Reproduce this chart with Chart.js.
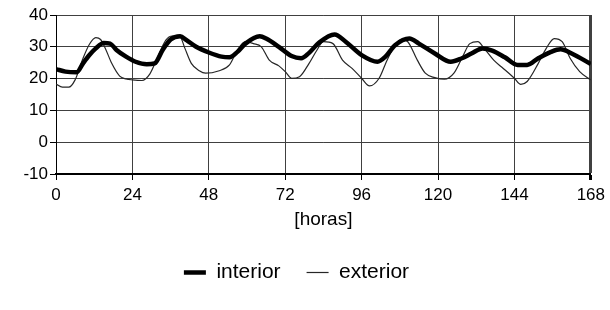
<!DOCTYPE html>
<html>
<head>
<meta charset="utf-8">
<script src="https://cdn.jsdelivr.net/npm/chart.js@4/dist/chart.umd.min.js"></script>
<style>
  html, body { margin: 0; padding: 0; background: #fff; }
  #wrap { width: 610px; height: 310px; }
</style>
</head>
<body>
<div id="wrap"><canvas id="myChart" width="610" height="310"></canvas></div>
<script>
// hours, with the temperature at each
var interiorHoras = [0, 3, 6.5, 8.5, 10.5, 12.5, 15, 17, 19, 22, 25, 28.5, 31, 33.5, 36, 39, 41, 44, 48, 52,
  54.5, 57, 59.5, 64, 66, 70, 74, 77, 79.5, 82.5, 87.5, 91, 96, 101, 103.5, 106.5, 111, 114, 119, 124,
  127.5, 130.5, 134, 137, 141, 145, 148, 151.5, 155.5, 158.5, 162, 168];
var interiorTemp = [23.0, 22.2, 22.0, 24.8, 27.4, 29.5, 31.2, 31.0, 29.0, 26.9, 25.3, 24.5, 24.8, 29.0, 32.3, 33.3, 32.1, 30.0, 28.2, 26.9,
  26.7, 28.4, 31.0, 33.3, 32.6, 30.0, 27.1, 26.4, 28.1, 31.2, 33.9, 31.6, 27.4, 25.3, 26.9, 30.5, 32.6, 31.0, 27.9, 25.3,
  26.4, 27.9, 29.5, 28.8, 26.7, 24.3, 24.3, 26.4, 28.4, 29.2, 27.9, 24.6];

var exteriorHoras = [0, 2, 4, 6, 8.5, 10.5, 12.5, 14, 15.5, 17.5, 20, 22, 24, 27, 29.5, 32, 34.5, 36.5, 39, 40.5,
  42.5, 45, 47, 51, 54.5, 57, 59.5, 62, 64.5, 67, 70, 72, 74, 76.5, 79.5, 82, 84, 87, 90, 93,
  96, 98.5, 101.5, 104, 106.5, 108.5, 110.5, 113.5, 116, 119, 122, 125, 127.5, 130, 132.5, 134.5, 137.5, 140.5, 144, 146,
  148, 151.5, 154, 156.5, 159, 161.5, 164.5, 168];
var exteriorTemp = [18.3, 17.3, 17.3, 19.6, 26.4, 30.8, 32.9, 32.3, 29.5, 24.8, 20.8, 19.9, 19.6, 19.4, 21.5, 26.9, 32.1, 33.4, 33.1, 29.5,
  24.8, 22.5, 21.7, 22.4, 24.3, 29.0, 31.6, 31.0, 30.0, 25.8, 24.0, 22.2, 20.1, 20.6, 24.8, 29.0, 31.6, 31.0, 25.8, 23.2,
  20.1, 17.7, 20.1, 25.8, 30.5, 32.3, 31.6, 25.8, 21.7, 20.3, 19.8, 21.7, 26.4, 31.0, 31.6, 29.5, 25.8, 23.2, 20.1, 18.2,
  19.1, 24.8, 29.5, 32.6, 31.6, 26.4, 22.2, 19.6];

var xTicks = [0, 24, 48, 72, 96, 120, 144, 168];
var yTicks = [-10, 0, 10, 20, 30, 40];

function toPoints(xs, ys) {
  return xs.map(function (x, i) { return { x: x, y: ys[i] }; });
}

Chart.defaults.font.family = '"Liberation Sans", Arial, sans-serif';
Chart.defaults.font.size = 17;
Chart.defaults.color = '#000';

var ctx = document.getElementById('myChart').getContext('2d');
var chart = new Chart(ctx, {
  type: 'line',
  data: {
    datasets: [{
      label: 'interior',
      data: toPoints(interiorHoras, interiorTemp),
      borderColor: '#000',
      backgroundColor: '#000',
      borderWidth: 4.5,
      pointRadius: 0,
      cubicInterpolationMode: 'monotone',
      order: 1
    },
    {
      label: 'exterior',
      data: toPoints(exteriorHoras, exteriorTemp),
      borderColor: '#262626',
      backgroundColor: '#262626',
      borderWidth: 1.2,
      pointRadius: 0,
      cubicInterpolationMode: 'monotone',
      order: 2
    }]
  },
  options: {
    responsive: false,
    animation: false,
    layout: { padding: { top: 15, right: 17, left: 0, bottom: 17 } },
    plugins: {
      legend: {
        position: 'bottom',
        labels: {
          usePointStyle: true,
          pointStyle: 'line',
          pointStyleWidth: 22,
          padding: 26,
          color: '#000',
          font: { size: 21 }
        }
      },
      tooltip: { enabled: false }
    },
    scales: {
      x: {
        type: 'linear',
        min: 0,
        max: 168,
        afterBuildTicks: function (s) { s.ticks = xTicks.map(function (v) { return { value: v }; }); },
        afterFit: function (s) { s.height = 62; },
        ticks: { padding: 5, color: '#000', maxRotation: 0 },
        grid: {
          color: '#404040',
          tickLength: 6,
          lineWidth: function (c) { return c.index === xTicks.length - 1 ? 3 : 1; },
          tickColor: '#000'
        },
        border: { color: '#000', width: 2 },
        title: { display: true, text: '[horas]', color: '#000', font: { size: 19 }, padding: { top: 4, bottom: 5 } }
      },
      y: {
        min: -10,
        max: 40,
        afterBuildTicks: function (s) { s.ticks = yTicks.map(function (v) { return { value: v }; }); },
        afterFit: function (s) { s.width = 56; },
        ticks: { padding: 2, color: '#000' },
        grid: { color: '#404040', tickLength: 6, tickColor: '#000' },
        border: { color: '#000', width: 1 }
      }
    }
  }
});
</script>
</body>
</html>
